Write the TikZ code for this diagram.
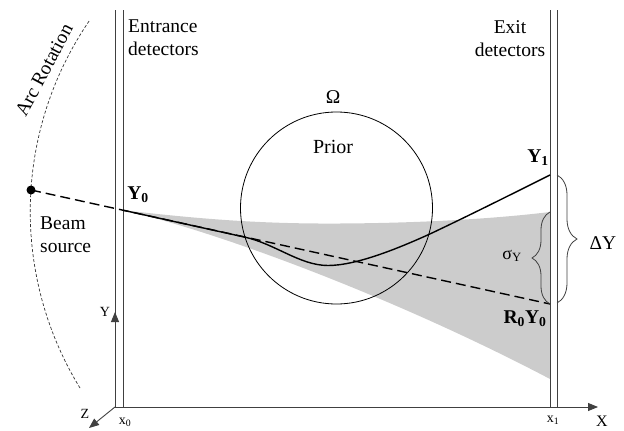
\documentclass[tikz,border=0pt]{standalone}
\usepackage{fontspec}
\setmainfont{Liberation Serif}
\usetikzlibrary{arrows.meta,decorations.pathreplacing}
\begin{document}
\begin{tikzpicture}[x=1pt,y=-1pt,
  det/.style={line width=0.9pt, draw=black!75},
  lbl/.style={font=\fontsize{19.5}{23}\selectfont, inner sep=0pt},
  small/.style={font=\fontsize{14}{16}\selectfont, inner sep=0pt},
  beam/.style={dash pattern=on 10pt off 5pt, line width=1.4pt},
  track/.style={line width=1.4pt},
  axis/.style={line width=0.9pt, draw=black!75, -{Triangle[length=10pt,width=8pt]}},
  arcline/.style={dash pattern=on 3pt off 2pt, line width=0.7pt, draw=black!80},
  brc/.style={decorate, decoration={brace, amplitude=#1}, line width=0.8pt, draw=black!75}]
\useasboundingbox (0,0) rectangle (624,431);
% coordinates
\coordinate (o) at (115,407);
\coordinate (xend) at (598,407);
\coordinate (zend) at (89,428);
\coordinate (ybase) at (115,330);
\coordinate (ytip) at (115,312);
\coordinate (src) at (31,190);
\coordinate (y0) at (123,210.2);
\coordinate (r0y0) at (550,304);
\coordinate (y1) at (550,175);
\coordinate (sigtop) at (550,212);
\coordinate (dtop) at (557,175);
\coordinate (dbot) at (557,303);
% uncertainty cone
\fill[black!20] (y0) .. controls (200,219) and (260,224) .. (340,223.5)
  .. controls (430,223) and (500,218) .. (sigtop) -- (550,379)
  .. controls (400,300) and (220,232) .. (y0) -- cycle;
% prior circle
\node[circle, draw, line width=0.8pt, minimum size=192pt, inner sep=0pt] (prior) at (336.5,208) {};
% detectors
\draw[det] (115,10) -- (o);
\draw[det] (123,10) -- (123,407);
\draw[det] (550,10) -- (550,407);
\draw[det] (557,10) -- (557,407);
% axes
\draw[axis] (o) -- (xend);
\draw[axis] (o) -- (zend);
\draw[axis] (ybase) -- (ytip);
% arc rotation
\draw[arcline] (80,388) arc[start angle=148.5, end angle=214.6, radius=337.7];
% beam
\draw[beam] (src) -- (r0y0);
\fill (src) circle[radius=4.5];
% track
\draw[track] (y0) -- (245,237.2) .. controls (275,243.8) and (300,265.5) .. (328,265.5)
  .. controls (355,265.5) and (395,250) .. (432,233)
  .. controls (470,215) and (510,195) .. (y1);
% braces
\draw[brc=18] (r0y0) -- (sigtop);
\draw[brc=20] (dtop) -- (dbot);
% labels
\node[lbl, anchor=north west, align=left] (entr) at (128,20) {Entrance\\detectors};
\node[lbl, anchor=north, align=center] (exit) at (510,20) {Exit\\detectors};
\node[lbl, anchor=north west, align=left] (bs) at (40,216.5) {Beam\\source};
\node[lbl, rotate=62] (arclbl) at (44,70) {Arc Rotation};
\node[lbl] (om) at (333,97) {Ω};
\node[lbl, font=\fontsize{20}{23}\selectfont] (pr) at (333,147) {Prior};
\node[lbl] (y0lbl) at (138,195) {\textbf{Y\textsubscript{0}}};
\node[lbl] (y1lbl) at (538,158) {\textbf{Y\textsubscript{1}}};
\node[lbl] (r0lbl) at (525,319) {\textbf{R\textsubscript{0}Y\textsubscript{0}}};
\node[lbl, font=\fontsize{18}{20}\selectfont] (siglbl) at (512,256) {σ\textsubscript{Y}};
\node[lbl] (dylbl) at (603,243) {ΔY};
\node[small] (ylbl) at (105,312) {Y};
\node[small] (zlbl) at (85,414) {Z};
\node[small] (x0lbl) at (125,422) {x\textsubscript{0}};
\node[small] (x1lbl) at (553,420) {x\textsubscript{1}};
\node[small, font=\fontsize{16}{18}\selectfont] (xlbl) at (602,421) {X};
\end{tikzpicture}
\end{document}
